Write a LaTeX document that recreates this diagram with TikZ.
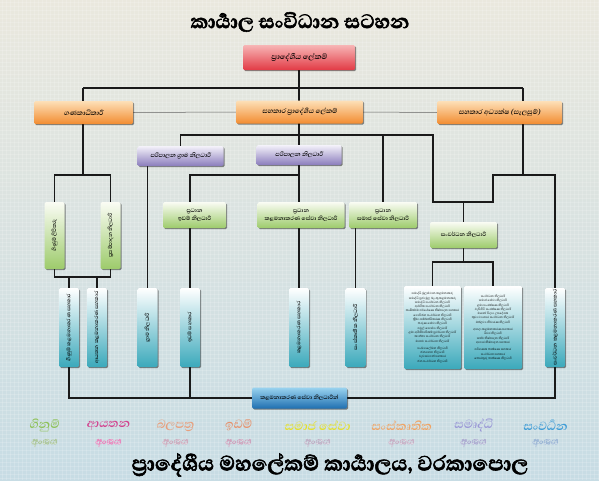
\documentclass[tikz,border=0pt]{standalone}
\usepackage{fontspec}
\usetikzlibrary{shadows}
\newfontfamily\sifont[Script=Sinhala]{Abhaya Libre}
\newfontfamily\sislant[Script=Sinhala,FakeSlant=0.18]{Abhaya Libre}
\newfontfamily\siheavy[Script=Sinhala,FakeBold=2.2]{Abhaya Libre}
\definecolor{redT}{HTML}{F7B5B5}\definecolor{redB}{HTML}{E23A45}
\definecolor{orT}{HTML}{FDE0B8}\definecolor{orB}{HTML}{F28C30}
\definecolor{puT}{HTML}{F4F2FA}\definecolor{puB}{HTML}{8A7CBC}
\definecolor{grT}{HTML}{FAFCF4}\definecolor{grB}{HTML}{9DCB6B}
\definecolor{cyT}{HTML}{FFFFFF}\definecolor{cyB}{HTML}{3BA9BB}
\definecolor{blT}{HTML}{9AD3EF}\definecolor{blB}{HTML}{1E6FB0}
\definecolor{bgT}{HTML}{EAE8DE}\definecolor{bgB}{HTML}{C7DCE4}
\definecolor{linec}{HTML}{1A1A1A}
\definecolor{gC}{HTML}{8FC25A}\definecolor{aC}{HTML}{D2428E}
\definecolor{bC}{HTML}{E7A07E}\definecolor{iC}{HTML}{E6936E}
\definecolor{sC}{HTML}{E4E02C}\definecolor{kC}{HTML}{F0A464}
\definecolor{mC}{HTML}{9A98D6}\definecolor{dC}{HTML}{3C9BD6}
\pgfdeclarelayer{bg}\pgfdeclarelayer{lines}
\pgfsetlayers{bg,lines,main}
\tikzset{
 box/.style={rounded corners=1.5pt, inner sep=1pt, align=center,
   font=\sifont\bfseries\fontsize{7}{8}\selectfont,
   drop shadow={shadow xshift=1.2pt, shadow yshift=-1.2pt, opacity=0.45, fill=black}},
 redbox/.style={box, top color=redT, bottom color=redB, minimum width=112pt, minimum height=25pt, font=\sislant\bfseries\fontsize{9.5}{10}\selectfont},
 orbox/.style={box, top color=orT, bottom color=orB, minimum height=23pt, font=\sislant\bfseries\fontsize{8.5}{9}\selectfont},
 pubox/.style={box, top color=puT, bottom color=puB, minimum height=20pt, font=\sislant\bfseries\fontsize{7.5}{8}\selectfont},
 grbox/.style={box, top color=grT, bottom color=grB, minimum height=26pt},
 gvbox/.style={box, top color=grT, bottom color=grB, minimum width=20pt, minimum height=67pt},
 cybox/.style={box, top color=cyT, bottom color=cyB, minimum width=20pt, minimum height=79pt},
 cwbox/.style={box, top color=cyT, bottom color=cyB, minimum height=83pt, font=\sifont\fontsize{3.8}{4.3}\selectfont},
 blbox/.style={box, top color=blT, bottom color=blB, minimum width=95pt, minimum height=21pt},
 vtext/.style={rotate=90, font=\sifont\bfseries\fontsize{6.5}{7}\selectfont, inner sep=0pt},
 conn/.style={draw=linec, line width=1.1pt},
 thinc/.style={draw=black!60, line width=0.5pt},
 divword/.style={font=\sislant\bfseries\fontsize{15}{15}\selectfont, inner sep=0pt},
 divsub/.style={font=\sislant\bfseries\fontsize{12.5}{12.5}\selectfont, inner sep=0pt, text=white},
}
\newcommand\strk[3]{\special{pdf:literal direct #1 RG #2 w 2 Tr}#3\special{pdf:literal direct 0 Tr}}
\newcommand\divlab[5]{%
 \node[divword, text=#3] (#1w) at (#2,425.5) {#4};
 \node[divsub] (#1u) at (#2,443) {\strk{#5}{0.45}{අංශය}};
}
\begin{document}
\begin{tikzpicture}[x=1pt,y=-1pt]
\useasboundingbox (0,0) rectangle (599,480);
\begin{pgfonlayer}{bg}
\shade[top color=bgT, bottom color=bgB] (0,0) rectangle (599,480);
\foreach \i in {2,6,...,598} \draw[white,opacity=.16,line width=.6pt] (\i,0)--(\i,480);
\foreach \j in {2,6,...,478} \draw[white,opacity=.16,line width=.6pt] (0,\j)--(599,\j);
\end{pgfonlayer}

% title
\node[font=\siheavy\bfseries\fontsize{25}{27}\selectfont] (title) at (300,22) {කාර්‍යාල සංවිධාන සටහන};

% boxes
\node[redbox] (T) at (299,57.5) {ප්‍රාදේශීය ලේකම්};
\node[orbox, minimum width=99pt] (O1) at (83.5,112.5) {ගණකාධිකාරී};
\node[orbox, minimum width=127pt] (O2) at (299.5,112) {සහකාර ප්‍රාදේශීය ලේකම්};
\node[orbox, minimum width=125pt] (O3) at (499.5,112.5) {සහකාර අධ්‍යක්ෂ (සැලසුම්)};
\node[pubox, minimum width=86pt] (P1) at (180.5,156) {පරිපාලන ග්‍රාම නිලධාරී};
\node[pubox, minimum width=85pt] (P2) at (299,155) {පරිපාලන නිලධාරී};

\node[gvbox] (GV1) at (54.5,235.5) {};
\node[vtext] (GV1t) at (GV1) {ගිණුම් ලිපිකරු};
\node[gvbox] (GV2) at (110.5,235.5) {};
\node[vtext] (GV2t) at (GV2) {ප්‍රසම්පාදන නිලධාරී};

\node[grbox, minimum width=63pt] (G1) at (194.5,215) {ප්‍රධාන\\ඉඩම් නිලධාරී};
\node[grbox, minimum width=87pt] (G2) at (301,215) {ප්‍රධාන\\කළමනාකරණ සේවා නිලධාරී};
\node[grbox, minimum width=68pt] (G3) at (383,215) {ප්‍රධාන\\සමාජ සේවා නිලධාරී};
\node[grbox, minimum width=67pt] (G4) at (463.5,235) {සංවර්ධන නිලධාරී};

\node[cybox] (C1) at (69,327.5) {};
\node[vtext] (C1t) at (C1) {ගිණුම් කළමනාකරණ සහකාර};
\node[cybox] (C2) at (97,327.5) {};
\node[vtext] (C2t) at (C2) {ආයතන කළමනාකරණ සහකාර};
\node[cybox] (C3) at (147.5,327.5) {};
\node[vtext] (C3t) at (C3) {ග්‍රාම නිලධාරී};
\node[cybox] (C4) at (190,327.5) {};
\node[vtext] (C4t) at (C4) {ඉඩම් සහකාර};
\node[cybox] (C5) at (299,327.5) {};
\node[vtext] (C5t) at (C5) {කළමනාකරණ සහකාර};
\node[cybox] (C6) at (355.5,327.5) {};
\node[vtext] (C6t) at (C6) {සංස්කෘතික නිලධාරී};
\node[cwbox, minimum width=57pt] (C7) at (432.5,327.5) {සමෘද්ධි මූලස්ථාන කළමනාකරු\\සමෘද්ධි ප්‍රජා මූල බැංකු කළමනාකරු\\සමෘද්ධි සංවර්ධන නිලධාරී\\ආර්ථික සංවර්ධන නිලධාරී\\කෘෂිකර්ම පර්යේෂණ නිෂ්පාදන සහකාර\\ගොවිජන සංවර්ධන නිලධාරී\\ක්‍රීඩා සම්බන්ධීකරණ නිලධාරී\\තරුණ සේවා නිලධාරී\\පවුල් සෞඛ්‍ය නිලධාරී\\ළමා අයිතිවාසිකම් ප්‍රවර්ධන නිලධාරී\\කාන්තා සංවර්ධන නිලධාරී\\මානව සංවර්ධන නිලධාරී\\[3pt]සංඛ්‍යාලේඛන නිලධාරී\\ජනගහන නිලධාරී\\වැඩසටහන් සහකාර\\ජන සංවර්ධන නිලධාරී};
\node[cwbox, minimum width=58pt] (C8) at (493,327.5) {සංවර්ධන නිලධාරී\\සමාජ සේවා නිලධාරී\\ළමා සංරක්ෂණ නිලධාරී\\වැඩිහිටි සංරක්ෂණ නිලධාරී\\මනෝ විද්‍යා උපදේශක\\කුඩා ව්‍යාපාර සංවර්ධන නිලධාරී\\මත්ද්‍රව්‍ය නිවාරණ නිලධාරී\\[3pt]ආපදා කළමනාකරණ සහකාර\\ධීවර නිලධාරී\\සත්ව නිෂ්පාදන නිලධාරී\\ආහාර නිෂ්පාදන සහකාර\\[3pt]පරිගණක තාක්ෂණ සහකාර\\සංවර්ධන සහකාර\\තොරතුරු තාක්ෂණ නිලධාරී};
\node[cybox] (C9) at (555,327.5) {};
\node[vtext] (C9t) at (C9) {සංවර්ධන කළමනාකරණ සහකාර};

\node[blbox] (B) at (299.5,398) {කළමනාකරණ සේවා නිලධාරීන්};

% connectors
\begin{pgfonlayer}{lines}
\coordinate (hL) at (83,88);
\coordinate (hR) at (523,88);
\coordinate (y175) at (0,175);
\coordinate (y135) at (0,135);
\coordinate (y202) at (0,202);
\coordinate (y277) at (0,277);
\coordinate (y262) at (0,262);
\coordinate (xA) at (433,0);
\coordinate (xB) at (493,0);
\draw[conn] (T.south) -- (P2.north);
\draw[conn] (hL) -- (hR);
\draw[conn] (hL) -- (hL |- y175);
\draw[conn] (GV1.north) -- (GV1.north |- y175) -| (GV2.north);
\draw[conn] (GV1.south) -- (GV1.south |- y277) -| (GV2.south);
\draw[conn] (C1.north) -- (C1.north |- y277);
\draw[conn] (C2.north) -- (C2.north |- y277);
\draw[conn] (P1.north) -- (P1.north |- y135) -- (xA |- y135) -- (xA |- y202) -- (xB |- y202) -- (xB |- y175) -- (C9.north |- y175) -- (C9.south);
\draw[conn] (hR) -- (hR |- y175);
\draw[conn] (C3.north) -- (C3.north |- P1.south);
\draw[conn] (P2.south) -- (C5.north);
\draw[conn] (P2.south |- y175) -- (C4.north |- y175) -- (C4.north);
\draw[conn] (G3.north |- y135) -- (G3.north);
\draw[conn] (G3.south -| C6.north) -- (C6.north);
\draw[conn] (G4.north |- y202) -- (G4.north);
\draw[conn] (G4.south) -- (G4.south |- y262);
\draw[conn] (C7.north) -- (C7.north |- y262) -| (C8.north);
\draw[conn] (C1.south) |- (B.west);
\draw[conn] (C4.south) -- (C4.south |- B.west);
\draw[conn] (B.east) -| (C9.south);
\draw[thinc] (O1.east) -- (O2.west);
\draw[thinc] (O2.east) -- (O3.west);
\end{pgfonlayer}

% division labels
\divlab{d1}{44}{gC}{ගිනුම්}{0.68 0.78 0.62}
\divlab{d2}{108}{aC}{ආයතන}{0.90 0.55 0.75}
\divlab{d3}{175}{bC}{බලපත්‍ර}{0.80 0.68 0.75}
\divlab{d4}{238}{iC}{ඉඩම්}{0.80 0.65 0.75}
\divlab{d5}{317}{sC}{සමාජ සේවා}{0.75 0.70 0.78}
\divlab{d6}{401}{kC}{සංස්කෘතික}{0.78 0.70 0.78}
\divlab{d7}{473}{mC}{සමෘද්ධි}{0.68 0.68 0.82}
\divlab{d8}{545}{dC}{සංවර්‍ධන}{0.62 0.72 0.84}

% footer
\node[font=\siheavy\bfseries\fontsize{26.5}{28}\selectfont] (foot) at (330,465) {ප්‍රාදේශීය මහලේකම් කාර්‍යාලය, වරකාපොල};
\end{tikzpicture}
\end{document}
